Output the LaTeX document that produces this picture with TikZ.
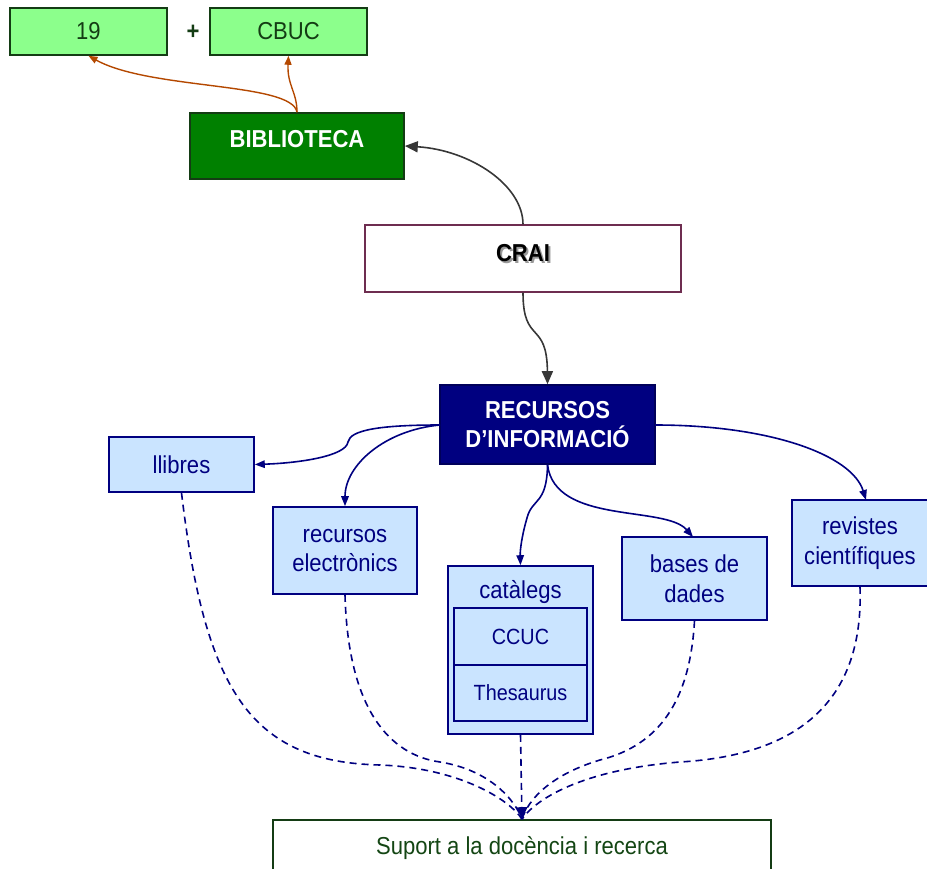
\documentclass[tikz,border=0pt]{standalone}
\usepackage{fontspec}
\setmainfont{Liberation Sans}[FakeStretch=0.9]
\usetikzlibrary{arrows.meta}

\definecolor{lgreen}{RGB}{140,255,140}
\definecolor{dgreen}{RGB}{20,60,20}
\definecolor{bgreen}{RGB}{0,128,0}
\definecolor{rust}{RGB}{180,72,0}
\definecolor{plum}{RGB}{110,45,80}
\definecolor{charcoal}{RGB}{55,55,55}
\definecolor{navy}{RGB}{0,0,128}
\definecolor{lblue}{RGB}{202,228,255}
\definecolor{txtgreen}{RGB}{20,70,20}

\tikzset{
  base/.style={rectangle, inner sep=0pt, line width=1.6pt, font=\fontsize{24.5}{29.5}\selectfont, align=center},
  greenbox/.style={base, draw=dgreen, fill=lgreen, text=dgreen},
  bibbox/.style={base, draw=dgreen, fill=bgreen},
  craibox/.style={base, draw=plum, fill=white, line width=1.3pt},
  navybox/.style={base, draw=navy!70!black, fill=navy, text=white, font=\fontsize{24.5}{29.5}\selectfont\bfseries},
  bluebox/.style={base, draw=navy, fill=lblue, text=navy},
  supbox/.style={base, draw=dgreen, fill=white, text=txtgreen},
  plain/.style={inner sep=0pt, font=\fontsize{24.5}{29.5}\selectfont},
  rustarrow/.style={draw=rust, line width=1.4pt, -{Triangle[length=9pt,width=7pt]}},
  grayarrow/.style={draw=charcoal, line width=1.6pt, -{Triangle[length=13pt,width=11pt]}},
  navyarrow/.style={draw=navy, line width=1.6pt, -{Triangle[length=10pt,width=7.5pt]}},
  navydash/.style={draw=navy, line width=1.6pt, dash pattern=on 7pt off 5pt},
}

\begin{document}
\begin{tikzpicture}[x=1pt,y=-1pt]
\useasboundingbox (0,0) rectangle (927,869);

% top row
\node[greenbox, minimum width=157, minimum height=47] (n19) at (88.5,31.5) {19};
\node[plain, text=dgreen, font=\fontsize{24.5}{29}\selectfont\bfseries] (plus) at (193,32) {+};
\node[greenbox, minimum width=157, minimum height=47] (cbuc) at (288.5,31.5) {CBUC};

% library box, label set high
\node[bibbox, minimum width=214, minimum height=66] (bib) at (297,146) {};
\node[plain, text=white, font=\fontsize{24.5}{29}\selectfont\bfseries] (bibtxt) at (297,139) {BIBLIOTECA};

% CRAI with a drop-shadowed label
\node[craibox, minimum width=316, minimum height=67] (crai) at (523,258.5) {};
\node[plain, font=\fontsize{24.5}{29}\selectfont\bfseries] (craitxt) at (523,254.5)
  {\rlap{\kern2pt\raisebox{-2pt}{\color{black!40}CRAI}}CRAI};

% resources
\node[navybox, minimum width=215, minimum height=79] (rec) at (547.5,424.5) {RECURSOS\\D’INFORMACIÓ};

\node[bluebox, minimum width=145, minimum height=55] (llib) at (181.5,464.5) {llibres};
\node[bluebox, minimum width=144, minimum height=87] (relec) at (345,550.5) {recursos\\electrònics};
\node[bluebox, minimum width=145, minimum height=168] (cat) at (520.5,650) {};
\node[plain, text=navy] (cattxt) at (520.5,592) {catàlegs};
\node[bluebox, minimum width=133, minimum height=57, font=\fontsize{22}{26}\selectfont] (ccuc) at (520.5,636.5) {CCUC};
\node[bluebox, minimum width=133, minimum height=56, font=\fontsize{22}{26}\selectfont] (thes) at (520.5,693) {Thesaurus};
\node[bluebox, minimum width=145, minimum height=83] (bases) at (694.5,578.5) {bases de\\dades};
\node[bluebox, minimum width=136, minimum height=86] (rev) at (860,543) {revistes\\científiques};

% bottom box
\node[supbox, minimum width=498, minimum height=70] (sup) at (522,855) {};
\node[plain, text=txtgreen] (suptxt) at (522,848) {Suport a la docència i recerca};

% links from the library to its parts
\draw[rustarrow] (bib.north) .. controls (292,82) and (150,90) .. (n19.south);
\draw[rustarrow] (bib.north) .. controls (297,92) and (287,85) .. (cbuc.south);

% CRAI links
\draw[grayarrow] (crai.north) .. controls (523,185) and (470,150) .. (bib.east);
\draw[grayarrow] (crai.south) .. controls (523,345) and (547,320) .. (rec.north);

% resource links
\coordinate (recw) at (440,425);
\coordinate (rece) at (655,425);
\coordinate (revn) at (866,500);
\coordinate (basn) at (693,537);
\draw[navyarrow] (recw) .. controls (380,425) and (350,430) .. (348,442)
  .. controls (346,456) and (300,463) .. (llib.east);
\draw[navyarrow] (recw) .. controls (385,430) and (345,465) .. (relec.north);
\draw[navyarrow] (rec.south) .. controls (547,505) and (532,498) .. (527,518)
  .. controls (522,535) and (520,550) .. (cat.north);
\draw[navyarrow] (rec.south) .. controls (555,525) and (665,505) .. (basn);
\draw[navyarrow] (rece) .. controls (770,425) and (852,455) .. (revn);

% dashed links to the support box
\draw[navydash] (llib.south) .. controls (205,690) and (250,762) .. (380,765)
  .. controls (460,768) and (510,800) .. (sup.north);
\draw[navydash] (relec.south) .. controls (348,710) and (390,755) .. (440,762)
  .. controls (490,770) and (515,800) .. (sup.north);
\draw[navydash] (bases.south) .. controls (690,700) and (660,745) .. (600,760)
  .. controls (550,775) and (528,800) .. (sup.north);
\draw[navydash] (rev.south) .. controls (864,700) and (800,755) .. (680,762)
  .. controls (580,770) and (535,800) .. (sup.north);
\draw[navydash, -{Triangle[length=12pt,width=11pt]}] (cat.south) -- (sup.north);
\end{tikzpicture}
\end{document}
